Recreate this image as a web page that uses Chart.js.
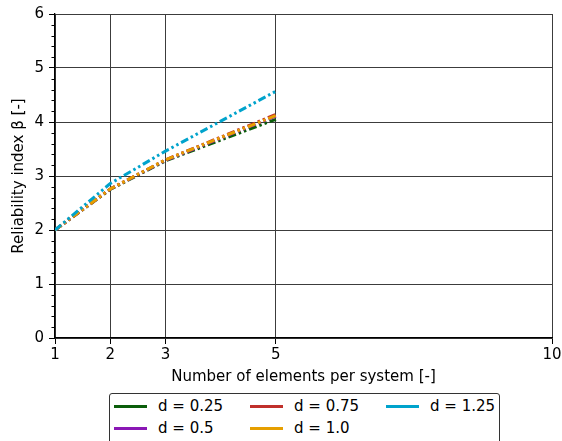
<!DOCTYPE html>
<html>
<head>
<meta charset="utf-8">
<script src="https://cdn.jsdelivr.net/npm/chart.js@4.4.0/dist/chart.umd.min.js"></script>
<style>
  html, body { margin: 0; padding: 0; background: #fff; overflow: hidden; width: 562px; height: 441px; }
  #wrap { position: relative; width: 570px; height: 441px; }
  #myChart { position: absolute; left: 0; top: 0; }
  #legend {
    position: absolute; left: 109px; top: 393px; width: 389px; height: 60px;
    border: 1px solid #333; border-radius: 3px; background: #fff;
    font-family: "DejaVu Sans", sans-serif; font-size: 15px; color: #000;
  }
  .item { position: absolute; height: 20px; line-height: 20px; white-space: nowrap; }
  .item span.swatch { position: absolute; left: 0; top: 9px; width: 33px; height: 3px; }
  .item span.lbl { position: absolute; left: 44px; top: 0; }
</style>
</head>
<body>
<div id="wrap">
  <canvas id="myChart" width="570" height="390"></canvas>
  <div id="legend"></div>
</div>
<script>
// number of elements in the system
const xValues = [1, 2, 3, 5];
const xTicks = [1, 2, 3, 5, 10];

// reliability index per d value
const labels = ['d = 0.25', 'd = 0.5', 'd = 0.75', 'd = 1.0', 'd = 1.25'];
const beta025 = [2.0, 2.75, 3.28, 4.05];
const beta05 = [2.0, 2.76, 3.29, 4.11];
const beta075 = [2.0, 2.76, 3.30, 4.14];
const beta10 = [2.0, 2.76, 3.30, 4.12];
const beta125 = [2.0, 2.86, 3.46, 4.57];

const colors = ['#0b5e0b', '#8a17b5', '#c0302b', '#e69f00', '#00a3cc'];
const series = [beta025, beta05, beta075, beta10, beta125];

const font = { family: 'DejaVu Sans', size: 15 };

const datasets = series.map(function (vals, i) {
    return {
        label: labels[i],
        data: xValues.map((x, j) => ({ x: x, y: vals[j] })),
        borderColor: colors[i],
        backgroundColor: colors[i],
        borderWidth: 3,
        borderDash: [8, 3, 2.5, 3, 2.5, 3],
        borderCapStyle: 'butt',
        pointRadius: 0,
        tension: 0,
        fill: false,
        order: series.length - i
    };
});

// small ticks between the whole numbers on the y axis
const minorTicks = {
    id: 'minorTicks',
    afterDraw(chart) {
        const y = chart.scales.y;
        const left = chart.chartArea.left;
        const ctx = chart.ctx;
        ctx.save();
        ctx.strokeStyle = '#000';
        ctx.lineWidth = 1;
        for (let k = 1; k < 30; k++) {
            if (k % 5 === 0) continue;
            const py = Math.round(y.getPixelForValue(k / 5)) + 0.5;
            ctx.beginPath();
            ctx.moveTo(left - 3.5, py);
            ctx.lineTo(left, py);
            ctx.stroke();
        }
        ctx.restore();
    }
};

var ctx = document.getElementById('myChart').getContext('2d');
var chart = new Chart(ctx, {
    type: 'line',
    data: { datasets: datasets },
    options: {
        responsive: false,
        animation: false,
        layout: { padding: { top: 14, right: 18, left: 0, bottom: 0 } },
        plugins: { legend: { display: false }, tooltip: { enabled: false } },
        scales: {
            x: {
                type: 'linear',
                min: 1,
                max: 10,
                afterBuildTicks: function (scale) {
                    scale.ticks = xTicks.map(v => ({ value: v }));
                },
                afterFit: function (scale) { scale.height = 52; },
                grid: { color: '#3c3c3c', lineWidth: 1, tickLength: 6, tickColor: '#000' },
                border: { color: '#000', width: 1.3 },
                ticks: { color: '#000', font: font, padding: 2, maxRotation: 0, autoSkip: false },
                title: {
                    display: true, text: 'Number of elements per system [-]',
                    color: '#000', font: font, padding: { top: 2, bottom: 4 }
                }
            },
            y: {
                min: 0,
                max: 6,
                afterBuildTicks: function (scale) {
                    scale.ticks = [0, 1, 2, 3, 4, 5, 6].map(v => ({ value: v }));
                },
                afterFit: function (scale) { scale.width = 55; },
                grid: { color: '#3c3c3c', lineWidth: 1, tickLength: 6, tickColor: '#000' },
                border: { color: '#000', width: 1.3 },
                ticks: { color: '#000', font: font, padding: 5 },
                title: {
                    display: true, text: 'Reliability index β [-]',
                    color: '#000', font: font, padding: { top: 10, bottom: 4 }
                }
            }
        }
    },
    plugins: [minorTicks]
});

// legend laid out column by column, three columns
const legendEl = document.getElementById('legend');
const colLeft = [4, 140, 276];
labels.forEach(function (text, i) {
    const col = Math.floor(i / 2);
    const row = i % 2;
    const item = document.createElement('div');
    item.className = 'item';
    item.style.left = colLeft[col] + 'px';
    item.style.top = (2 + row * 21.5) + 'px';
    item.innerHTML = '<span class="swatch" style="background:' + colors[i] + '"></span><span class="lbl">' + text + '</span>';
    legendEl.appendChild(item);
});
</script>
</body>
</html>
